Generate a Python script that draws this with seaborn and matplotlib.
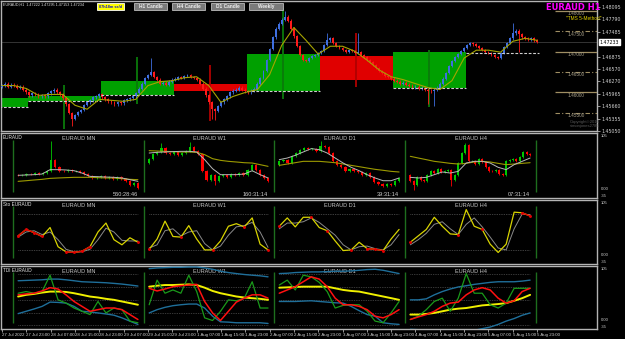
import numpy as np
import matplotlib
matplotlib.use("Agg")
import matplotlib.pyplot as plt
import seaborn as sns
from matplotlib.patches import Rectangle

sns.set_theme(style="dark", rc={"axes.facecolor": "black", "figure.facecolor": "black"})
plt.rcParams["font.family"] = ["DejaVu Sans"]
NARROW = ["Liberation Sans Narrow", "Liberation Sans", "DejaVu Sans"]

# ---------------- main H1 chart data ----------------
main_open0 = 1.46141
main_close = [
    1.46165, 1.46213, 1.46141, 1.46189, 1.46165, 1.46117, 1.46141, 1.46068, 1.45996, 1.45924,
    1.45972, 1.45948, 1.45899, 1.45924, 1.45899, 1.45972, 1.46020, 1.46068, 1.45996, 1.45948,
    1.45851, 1.45706, 1.45489, 1.45344, 1.45441, 1.45513, 1.45561, 1.45682, 1.45755, 1.45803,
    1.45875, 1.45899, 1.45948, 1.45875, 1.45827, 1.45779, 1.45755, 1.45706, 1.45755, 1.45730,
    1.45803, 1.45827, 1.45851, 1.45899, 1.45972, 1.46093, 1.46213, 1.46358, 1.46431, 1.46503,
    1.46382, 1.46310, 1.46213, 1.46238, 1.46189, 1.46262, 1.46310, 1.46334, 1.46382, 1.46358,
    1.46407, 1.46431, 1.46382, 1.46358, 1.46310, 1.46213, 1.46093, 1.45924, 1.45755, 1.45585,
    1.45537, 1.45658, 1.45755, 1.45827, 1.45899, 1.45996, 1.46044, 1.46068, 1.46117, 1.46068,
    1.46020, 1.45996, 1.46044, 1.46093, 1.46213, 1.46358, 1.46527, 1.46793, 1.47059, 1.47348,
    1.47566, 1.47687, 1.47783, 1.47856, 1.47759, 1.47566, 1.47373, 1.47131, 1.46914, 1.46793,
    1.46769, 1.46841, 1.46890, 1.46914, 1.46962, 1.47010, 1.47155, 1.47276, 1.47324, 1.47204,
    1.47131, 1.47083, 1.47034, 1.46986, 1.47034, 1.47010, 1.46962, 1.46986, 1.46914, 1.46865,
    1.46793, 1.46745, 1.46672, 1.46600, 1.46527, 1.46479, 1.46407, 1.46382, 1.46334, 1.46286,
    1.46262, 1.46213, 1.46238, 1.46189, 1.46165, 1.46117, 1.46141, 1.46093, 1.46117, 1.46068,
    1.46044, 1.46020, 1.46068, 1.46117, 1.46213, 1.46334, 1.46479, 1.46648, 1.46769, 1.46865,
    1.46938, 1.47010, 1.47083, 1.47155, 1.47204, 1.47179, 1.47131, 1.47083, 1.47034, 1.46986,
    1.46962, 1.46914, 1.46865, 1.46841, 1.46962, 1.47107, 1.47204, 1.47324, 1.47445, 1.47517,
    1.47421, 1.47348, 1.47324, 1.47300, 1.47324, 1.47276, 1.47234,
]
main_high_spikes = {49: 1.46841, 93: 1.48000, 107: 1.47445, 117: 1.47445, 168: 1.47711}
main_low_spikes = {23: 1.45175, 69: 1.45344, 70: 1.45320, 140: 1.45706, 142: 1.45658, 170: 1.46986}

ma_bars = list(range(0, 177, 4))
ma_vals = [
    1.46165, 1.46165, 1.46093, 1.45924, 1.45948, 1.45948, 1.45682, 1.45585, 1.45827, 1.45803,
    1.45779, 1.45827, 1.46165, 1.46262, 1.46286, 1.46358, 1.46382, 1.46165, 1.45755, 1.45899,
    1.45996, 1.46068, 1.46431, 1.47155, 1.47590, 1.47276, 1.46938, 1.47131, 1.47131, 1.47010,
    1.46793, 1.46551, 1.46382, 1.46310, 1.46213, 1.46117, 1.46068, 1.46286, 1.46841, 1.47034,
    1.47034, 1.46986, 1.47252, 1.47324, 1.47276,
]

# daily candles drawn as boxes
day_first_bar = [-15, 9, 33, 57, 81, 105, 129, 153]
day_open = [1.45634, 1.45779, 1.45924, 1.46213, 1.46020, 1.46890, 1.46117, 1.46962]
day_close = [1.45851, 1.45899, 1.46286, 1.46020, 1.46938, 1.46310, 1.46986, 1.47234]
day_high = [1.45851, 1.46189, 1.46865, 1.46672, 1.48073, 1.47445, 1.47034, 1.47711]
day_low = [1.45634, 1.45103, 1.45706, 1.45296, 1.45827, 1.46141, 1.45634, 1.46962]

price_ticks = [1.45050, 1.45355, 1.45660, 1.45965, 1.46270, 1.46570, 1.46875, 1.47485, 1.47790, 1.48095]
bid_price = 1.47233
level_solid = [1.480, 1.470, 1.460]
level_dashdot = [1.475, 1.465, 1.455]

date_labels = ["27 Jul 2022", "27 Jul 23:00", "28 Jul 07:00", "28 Jul 15:00", "28 Jul 23:00",
               "29 Jul 07:00", "29 Jul 15:00", "29 Jul 23:00", "1 Aug 07:00", "1 Aug 15:00",
               "1 Aug 23:00", "2 Aug 07:00", "2 Aug 15:00", "2 Aug 23:00", "3 Aug 07:00",
               "3 Aug 15:00", "3 Aug 23:00", "4 Aug 07:00", "4 Aug 15:00", "4 Aug 23:00",
               "5 Aug 07:00", "5 Aug 15:00", "5 Aug 23:00"]

# ---------------- multi timeframe candles panel ----------------
tf_names = ["EURAUD MN", "EURAUD W1", "EURAUD D1", "EURAUD H4"]
tf_timers = ["560:28:46", "160:31:14", "39:31:14", "07:31:14"]

mn_open0 = 35.9
mn_close = [34.9, 35.9, 36.9, 36.4, 37.9, 37.4, 38.4, 42.0, 59.0, 47.2, 42.0, 41.0, 42.6, 41.0, 42.0,
            39.5, 36.9, 34.3, 30.8, 31.8, 33.3, 30.8, 32.8, 29.7, 31.8, 29.7, 25.6, 20.5, 23.1, 15.4]
mn_spikes = {8: (87.0, None)}
w1_open0 = 53.8
w1_close = [60.5, 67.7, 70.8, 76.9, 69.2, 67.7, 70.8, 66.7, 69.2, 71.8, 78.0, 71.8, 67.7, 41.0, 28.2,
            35.9, 25.6, 33.3, 35.9, 31.8, 36.9, 35.9, 38.4, 35.9, 43.6, 50.2, 43.6, 35.9, 30.8, 26.6]
w1_spikes = {3: (84.6, None), 10: (86.2, None), 16: (None, 20.0)}
d1_open0 = 51.3
d1_close = [56.4, 59.0, 53.8, 64.1, 69.2, 74.4, 76.9, 75.9, 75.9, 71.8, 79.5, 77.9, 69.2, 56.4, 50.2,
            47.2, 42.0, 45.1, 41.0, 39.5, 35.9, 37.9, 31.8, 24.1, 21.5, 17.9, 21.5, 19.5, 26.6, 30.8]
d1_spikes = {10: (87.0, None)}
h4_open0 = 35.9
h4_close = [25.6, 20.5, 31.8, 28.2, 25.6, 35.9, 42.0, 38.4, 45.1, 40.0, 42.0, 43.1, 28.2, 35.9, 53.8,
            69.2, 82.1, 56.4, 56.4, 52.3, 60.5, 55.4, 47.2, 42.0, 41.0, 43.6, 36.9, 34.9, 57.4, 59.0,
            60.5, 57.4, 62.6, 70.8, 67.7, 66.7]
h4_spikes = {16: (85.0, None), 1: (None, 12.0), 12: (None, 18.0)}

mn_ma_fast = [34.9, 35.4, 35.9, 36.9, 43.6, 43.6, 43.1, 42.0, 38.4, 33.3, 32.8, 32.3, 31.8, 30.8, 28.2, 25.6]
mn_ma_slow = [25.6, 26.6, 27.7, 28.7, 30.2, 30.8, 31.3, 31.8, 31.8, 31.8, 31.3, 30.8, 30.8, 29.7, 28.7, 28.2]
w1_ma_fast = [69.2, 70.3, 70.8, 71.3, 71.8, 71.8, 70.8, 59.0, 45.1, 35.9, 35.9, 35.9, 36.9, 42.0, 35.9, 30.8]
w1_ma_slow = [72.8, 72.3, 71.8, 71.3, 70.8, 70.8, 70.3, 66.7, 60.5, 57.9, 56.4, 55.4, 54.3, 53.8, 51.3, 48.7]
d1_ma_fast = [59.0, 61.5, 65.6, 70.8, 75.9, 74.4, 69.2, 61.5, 53.8, 47.2, 42.0, 35.9, 30.8, 26.6, 26.6, 30.8]
d1_ma_slow = [50.2, 52.3, 54.3, 56.4, 56.4, 56.4, 55.4, 54.3, 52.3, 50.2, 48.2, 46.1, 44.1, 42.6, 41.0, 40.0]
h4_ma_fast = [31.8, 30.8, 31.8, 35.9, 40.0, 38.4, 41.0, 53.8, 56.4, 56.4, 53.8, 47.2, 43.6, 51.3, 56.4, 61.5]
h4_ma_slow = [64.1, 61.5, 59.0, 56.4, 54.9, 53.3, 52.3, 53.3, 55.4, 56.4, 55.4, 53.3, 51.3, 52.3, 53.3, 54.3]

# ---------------- stochastic panel ----------------
mn_sto_k = [44, 54, 49, 43, 57, 27, 19, 18, 20, 27, 50, 64, 38, 30, 41, 34]
mn_sto_d = [42, 50, 52, 46, 50, 38, 23, 19, 19, 23, 38, 56, 50, 37, 36, 36]
w1_sto_k = [23, 39, 67, 43, 42, 60, 39, 22, 22, 36, 59, 63, 58, 72, 31, 22]
w1_sto_d = [25, 30, 52, 55, 44, 50, 52, 32, 22, 28, 45, 58, 60, 65, 50, 26]
d1_sto_k = [59, 72, 58, 73, 73, 57, 52, 36, 21, 22, 34, 24, 23, 21, 39, 54]
d1_sto_d = [55, 64, 64, 66, 72, 65, 55, 45, 30, 22, 27, 28, 24, 22, 30, 46]
h4_sto_k = [34, 44, 54, 73, 59, 47, 46, 85, 59, 54, 31, 18, 31, 81, 80, 75]
h4_sto_d = [30, 38, 48, 62, 66, 55, 46, 62, 72, 58, 42, 25, 22, 55, 78, 77]

# ---------------- TDI panel ----------------
mn_up = [76.6, 77.1, 77.6, 78.1, 79.2, 79.2, 78.1, 76.6, 75.0, 74.5, 74.0, 73.4, 72.4, 71.3, 69.8, 68.2]
mn_lo = [24.4, 28.1, 31.8, 35.9, 42.7, 42.2, 41.1, 35.9, 28.1, 27.1, 25.5, 23.9, 21.9, 17.7, 12.5, 7.3]
mn_mid = [51.5, 54.2, 55.7, 57.8, 59.4, 59.4, 58.8, 56.8, 54.2, 51.5, 50.0, 47.9, 46.3, 43.7, 41.1, 38.5]
mn_sig = [54.2, 55.7, 56.8, 60.4, 65.6, 63.5, 54.2, 43.7, 35.9, 28.1, 30.7, 33.3, 33.3, 30.7, 22.9, 15.1]
mn_rsi = [56.8, 59.4, 56.8, 59.4, 85.4, 46.3, 41.1, 33.3, 28.1, 22.9, 43.7, 25.5, 33.3, 30.7, 12.5, 9.9]
w1_up = [95.8, 96.9, 97.4, 97.9, 97.9, 98.4, 98.4, 96.9, 94.8, 91.7, 89.6, 88.0, 86.5, 85.4, 84.4, 82.8]
w1_lo = [25.5, 30.7, 34.4, 37.0, 38.5, 39.6, 39.6, 33.3, 20.3, 11.4, 10.9, 9.9, 9.9, 9.9, 9.9, 8.8]
w1_mid = [67.2, 68.7, 69.8, 69.8, 70.3, 70.8, 69.8, 65.6, 60.4, 56.8, 54.2, 51.6, 50.0, 48.9, 47.9, 46.3]
w1_sig = [64.6, 60.4, 63.5, 67.2, 68.7, 69.8, 70.8, 43.7, 25.5, 13.5, 28.1, 42.7, 49.0, 54.2, 54.2, 49.0]
w1_rsi = [38.5, 77.6, 56.8, 62.0, 56.8, 85.4, 59.4, 17.7, 13.5, 28.1, 46.3, 44.8, 48.9, 75.0, 33.3, 33.3]
d1_up = [88.0, 88.5, 89.6, 90.1, 90.6, 90.6, 91.1, 91.7, 91.7, 92.2, 93.2, 94.3, 94.8, 93.2, 90.6, 88.0]
d1_lo = [43.7, 43.7, 43.7, 44.3, 44.8, 43.7, 42.7, 41.6, 41.1, 35.9, 29.1, 22.9, 20.3, 9.9, 8.3, 7.3]
d1_mid = [65.6, 66.1, 66.7, 67.2, 67.2, 67.2, 67.2, 64.6, 62.0, 60.4, 59.4, 56.8, 54.2, 51.6, 49.0, 46.3]
d1_sig = [56.8, 62.0, 67.2, 75.0, 82.8, 79.2, 67.2, 48.9, 38.5, 38.5, 35.9, 30.7, 20.3, 17.7, 22.9, 30.7]
d1_rsi = [69.8, 77.6, 62.0, 85.4, 82.8, 74.0, 59.4, 33.3, 37.5, 38.5, 38.5, 28.1, 12.5, 9.9, 25.5, 43.7]
h4_up = [46.3, 46.3, 47.9, 54.2, 59.4, 63.5, 66.7, 68.7, 70.8, 72.4, 74.0, 75.0, 75.0, 75.0, 76.0, 77.6]
h4_lo = [-0.5, -1.1, -2.1, -3.2, -3.2, -4.2, -5.8, -4.2, -2.1, 0.5, 3.1, 7.3, 12.5, 16.6, 21.8, 25.5]
h4_mid = [22.9, 22.9, 23.9, 25.5, 28.1, 30.7, 32.3, 33.3, 35.4, 37.5, 38.5, 39.6, 41.1, 44.8, 48.9, 54.2]
h4_sig = [15.1, 19.2, 22.9, 28.1, 35.9, 41.1, 42.7, 54.2, 62.0, 65.6, 62.0, 48.9, 41.1, 44.8, 59.4, 64.6]
h4_rsi = [15.1, 20.3, 30.7, 43.7, 48.9, 28.1, 48.9, 88.0, 56.8, 56.8, 38.5, 33.3, 41.1, 64.6, 64.6, 64.6]

# ---------------- layout ----------------
W, H = 625, 339
XL = (-0.33, 195.7)
win_edges = [3.6, 46.7, 89.5, 132.6, 175.7]
FG = "#d2d2d2"
SPINE = "#b4b4b4"

fig = plt.figure(figsize=(6.25, 3.39), dpi=100, facecolor="black")


def axbox(top, bot):
    return [1 / W, 1 - bot / H, 596 / W, (bot - top) / H]


ax0 = fig.add_axes(axbox(1, 131))
ax1 = fig.add_axes(axbox(133, 198))
ax2 = fig.add_axes(axbox(200, 264))
ax3 = fig.add_axes(axbox(266, 329))

for a in (ax0, ax1, ax2, ax3):
    a.set_facecolor("black")
    a.set_xlim(*XL)
    a.grid(False)
    for s in a.spines.values():
        s.set_color(SPINE)
        s.set_linewidth(1.0)
    a.set_xticks([])
    a.set_yticks([])


def draw_candles(ax, xs, opens, closes, highs, lows, width, up, down, wick_lw, min_body):
    for xi, o, c, h, l in zip(xs, opens, closes, highs, lows):
        col = up if c >= o else down
        ax.vlines(xi, l, h, colors=col, lw=wick_lw, zorder=4)
        ax.add_patch(Rectangle((xi - width / 2, min(o, c)), width, max(abs(c - o), min_body),
                               fc=col, ec="none", zorder=5))


# ---------------- main chart ----------------
closes = np.array(main_close)
opens = np.r_[main_open0, closes[:-1]]
wick = 0.00030
highs = np.maximum(opens, closes) + wick
lows = np.minimum(opens, closes) - wick
for k, v in main_high_spikes.items():
    highs[k] = v
for k, v in main_low_spikes.items():
    lows[k] = v
bars = np.arange(len(closes))

ax0.set_ylim(1.45078, 1.48242)
ax0.axhline(bid_price, color="#3c3c3c", lw=0.6, zorder=1)

for i, b0 in enumerate(day_first_bar):
    o, c = day_open[i], day_close[i]
    if i < len(day_first_bar) - 1:
        col = "#00a000" if c >= o else "#e00000"
        ax0.add_patch(Rectangle((b0 - 0.5, min(o, c)), 24, abs(c - o), fc=col, ec="none", zorder=2))
        wcol = "#0a7a0a" if c >= o else "#b00000"
        if day_high[i] > day_low[i]:
            ax0.vlines(b0 + 11.5, day_low[i], day_high[i], colors=wcol, lw=1.3, zorder=3)
    if c >= o:
        ax0.hlines(o, b0 - 0.5, b0 + 23.5, colors="#cfcfcf", lw=0.8, linestyles=(0, (2.5, 1.5)), zorder=6)

draw_candles(ax0, bars, opens, closes, highs, lows, 0.62, "#3f6fe0", "#ff1a1a", 0.6, 0.00004)
sns.lineplot(x=ma_bars, y=ma_vals, ax=ax0, color="#a6a400", lw=0.8, zorder=7, legend=False)

for lv in level_solid:
    ax0.hlines(lv, 181.9, XL[1], colors="#a08f63", lw=0.9, zorder=6)
for lv in level_dashdot:
    ax0.hlines(lv, 181.9, XL[1], colors="#a08f63", lw=0.8, linestyles=(0, (4, 2, 1, 2)), zorder=6)
for lv in level_solid + level_dashdot:
    ax0.text(186, lv - 0.00012, f"{lv:.5f}", color="#a8a08a", fontsize=3.4, va="top", ha="left",
             family=NARROW, zorder=8)

ax0.yaxis.tick_right()
ax0.set_yticks(price_ticks)
ax0.set_yticklabels([f"{p:.5f}" for p in price_ticks])
ax0.tick_params(axis="y", colors=FG, labelsize=3.4, length=2, width=0.5, pad=1.5, right=True)
ax0.annotate(f"{bid_price:.5f}", xy=(1.004, bid_price), xycoords=("axes fraction", "data"),
             fontsize=3.4, color="black", va="center", ha="left",
             bbox=dict(boxstyle="square,pad=0.15", fc="white", ec="white"), annotation_clip=False)

# ---------------- lower panels ----------------
windows = []
for i in range(4):
    windows.append((win_edges[i] + 1.7, win_edges[i + 1] - 2.0))

candle_sets = [
    (mn_open0, mn_close, mn_spikes, mn_ma_fast, mn_ma_slow),
    (w1_open0, w1_close, w1_spikes, w1_ma_fast, w1_ma_slow),
    (d1_open0, d1_close, d1_spikes, d1_ma_fast, d1_ma_slow),
    (h4_open0, h4_close, h4_spikes, h4_ma_fast, h4_ma_slow),
]
sto_sets = [(mn_sto_k, mn_sto_d), (w1_sto_k, w1_sto_d), (d1_sto_k, d1_sto_d), (h4_sto_k, h4_sto_d)]
tdi_sets = [
    (mn_up, mn_lo, mn_mid, mn_sig, mn_rsi),
    (w1_up, w1_lo, w1_mid, w1_sig, w1_rsi),
    (d1_up, d1_lo, d1_mid, d1_sig, d1_rsi),
    (h4_up, h4_lo, h4_mid, h4_sig, h4_rsi),
]

for a, name in ((ax1, "EURAUD"), (ax2, "Sto EURAUD"), (ax3, "TDI EURAUD")):
    a.set_ylim(0, 100)
    a.text(0.003, 0.97, name, transform=a.transAxes, color="#e6e6e6", fontsize=3.4, va="top", ha="left",
           family=NARROW)
    a.vlines(win_edges, 10, 90, colors="#1e6e1e", lw=1.0, zorder=2)
    for i, t in enumerate(tf_names):
        a.text((win_edges[i] + win_edges[i + 1]) / 2, 92, t, color="#c8c8c8", fontsize=4.0,
               ha="center", va="center", family=NARROW)
    ytr = a.get_yaxis_transform()
    for s, yv in (("105", 95), ("0.00", 14), ("-35", 3)):
        a.text(1.006, yv, s, transform=ytr, color=FG, fontsize=3.0, va="center", ha="left",
               clip_on=False, family=NARROW)

# candles panel
for i, (o0, cl, spk, maf, mas) in enumerate(candle_sets):
    x0, x1 = windows[i]
    n = len(cl)
    xs = np.linspace(x0, x1, n)
    c = np.array(cl)
    o = np.r_[o0, c[:-1]]
    hi = np.maximum(o, c) + 1.5
    lo = np.minimum(o, c) - 1.5
    for k, (h, l) in spk.items():
        if h is not None:
            hi[k] = h
        if l is not None:
            lo[k] = l
    w = 0.55 * (x1 - x0) / (n - 1)
    draw_candles(ax1, xs, o, c, hi, lo, w, "#00c800", "#ff0000", 0.6, 0.4)
    xm = np.linspace(x0, x1, len(maf))
    sns.lineplot(x=xm, y=mas, ax=ax1, color="#9c9a00", lw=0.8, zorder=6, legend=False)
    sns.lineplot(x=xm, y=maf, ax=ax1, color="#b8b8b8", lw=0.7, zorder=7, legend=False)
    ax1.text(x1, 1.5, tf_timers[i], color="#d0d0d0", fontsize=4.1, ha="right", va="bottom", family=NARROW)

# stochastic panel
for i, (k, d) in enumerate(sto_sets):
    x0, x1 = windows[i]
    xs = np.linspace(x0, x1, len(k))
    ax2.hlines([78, 22], x0, x1, colors="#7a7a7a", lw=0.5, linestyles=(0, (1, 1.5)), zorder=2)
    sns.lineplot(x=xs, y=d, ax=ax2, color="#8a8a8a", lw=0.7, zorder=3, legend=False)
    sns.lineplot(x=xs, y=k, ax=ax2, color="#d8d400", lw=0.9, zorder=4, legend=False)
    k_arr, d_arr = np.array(k, float), np.array(d, float)
    near = np.abs(k_arr - d_arr) < 5
    ax2.plot(xs, np.where(near, k_arr, np.nan), color="#e00000", lw=1.0, zorder=5)
    ax2.plot(xs[near], k_arr[near], "o", color="#e00000", ms=1.1, zorder=5)

# TDI panel
for i, (up, lo, mid, sig, rsi) in enumerate(tdi_sets):
    x0, x1 = windows[i]
    xs = np.linspace(x0, x1, len(up))
    ax3.hlines([87, 67, 46, 26, 7], x0, x1, colors="#6e6e6e", lw=0.5, linestyles=(0, (1, 1.5)), zorder=2)
    sns.lineplot(x=xs, y=up, ax=ax3, color="#1f6f9a", lw=1.0, zorder=3, legend=False)
    sns.lineplot(x=xs, y=lo, ax=ax3, color="#1f6f9a", lw=1.0, zorder=3, legend=False)
    sns.lineplot(x=xs, y=mid, ax=ax3, color="#f0f000", lw=1.4, zorder=4, legend=False)
    sns.lineplot(x=xs, y=rsi, ax=ax3, color="#1a9a1a", lw=0.9, zorder=5, legend=False)
    sns.lineplot(x=xs, y=sig, ax=ax3, color="#ff1010", lw=1.1, zorder=6, legend=False)

ax3.set_xticks(list(range(0, 177, 8)))
ax3.set_xticklabels(date_labels, ha="left", family=NARROW)
ax3.tick_params(axis="x", colors=FG, labelsize=3.2, length=2, width=0.5, pad=1, bottom=True)

# ---------------- overlay texts and buttons ----------------
def fx(x):
    return x / W


def fy(y):
    return 1 - y / H


fig.text(fx(3), fy(4.5), "EURAUD,H1  1.47222 1.47295 1.47153 1.47234", color="#e0e0e0",
         fontsize=2.7, va="center", ha="left", family=NARROW)


def button(x0, y0, x1, y1, fc, ec, label, tc, fs):
    fig.patches.append(Rectangle((fx(x0), fy(y1)), (x1 - x0) / W, (y1 - y0) / H,
                                 transform=fig.transFigure, fc=fc, ec=ec, lw=0.6, zorder=5))
    fig.text(fx((x0 + x1) / 2), fy((y0 + y1) / 2), label, color=tc, fontsize=fs,
             fontweight="bold", ha="center", va="center", zorder=6, family=NARROW)


button(97, 3, 124, 10, "#ffff00", "#ffffff", "07h18m ss/d", "#1010c0", 2.8)
button(134, 3, 167, 10, "#7a7a7a", "#bcbcbc", "H1 Candle", "#f0f0f0", 3.4)
button(172, 3, 205, 10, "#7a7a7a", "#bcbcbc", "H4 Candle", "#f0f0f0", 3.4)
button(211, 3, 244, 10, "#7a7a7a", "#bcbcbc", "D1 Candle", "#f0f0f0", 3.4)
button(249, 3, 283, 10, "#7a7a7a", "#bcbcbc", "Weekly", "#f0f0f0", 3.4)

fig.text(fx(601), fy(7.5), "EURAUD H1", color="#ff00ff", fontsize=6.0, fontweight="bold",
         ha="right", va="center", zorder=6)
fig.text(fx(601), fy(18.5), '"TMS 5-Method"', color="#e0d000", fontsize=3.4, ha="right", va="center",
         zorder=6, family=NARROW)
fig.text(fx(570), fy(124), "Copyright©2016\nsimonjones2785", color="#5a5a5a", fontsize=3.0,
         ha="left", va="center", linespacing=1.0, zorder=6, family=NARROW)

fig.savefig("out.png", dpi=100, facecolor="black")
